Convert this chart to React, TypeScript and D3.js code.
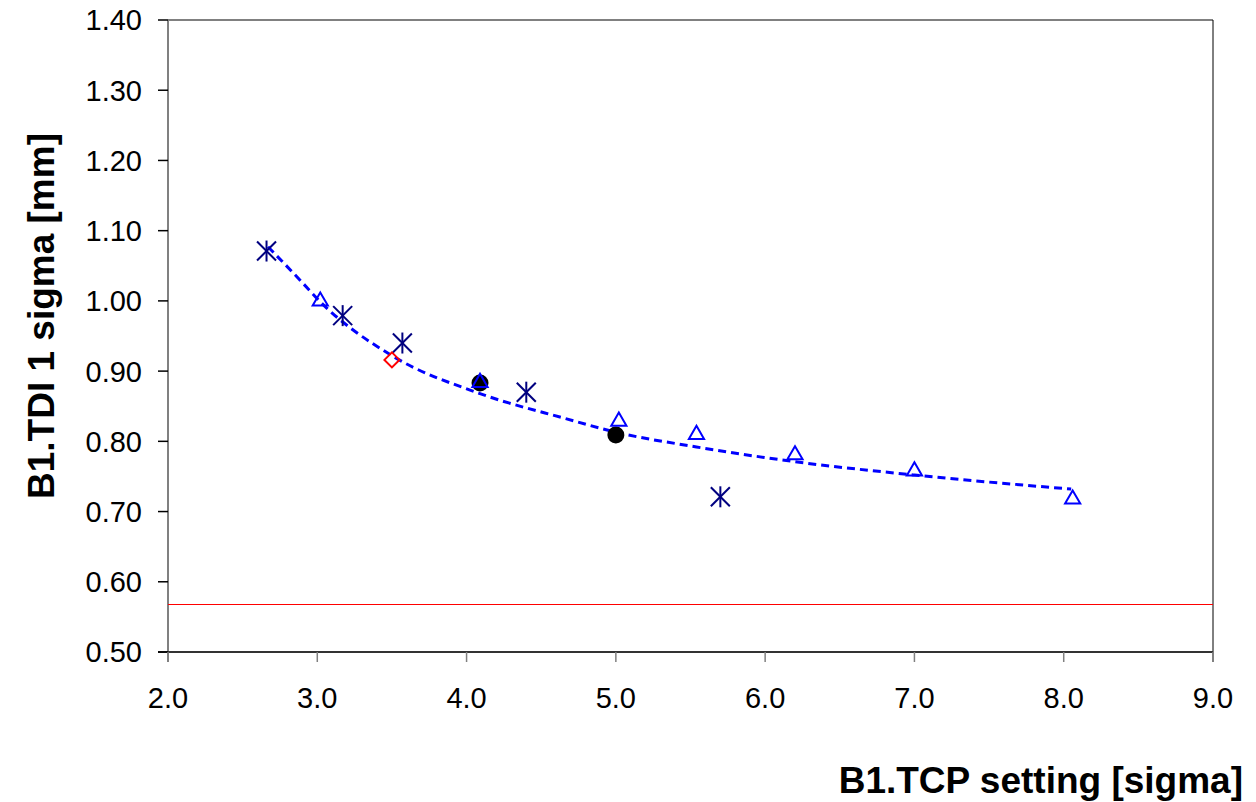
import React from "react";
import * as d3 from "d3";

const xTicks = [2, 3, 4, 5, 6, 7, 8, 9];
const yTicks = [0.5, 0.6, 0.7, 0.8, 0.9, 1.0, 1.1, 1.2, 1.3, 1.4];

const starX = [2.66, 3.17, 3.57, 4.4, 5.7];
const starY = [1.071, 0.979, 0.94, 0.87, 0.721];

const triX = [3.02, 4.09, 5.02, 5.54, 6.2, 7.0, 8.06];
const triY = [1.001, 0.885, 0.83, 0.811, 0.782, 0.759, 0.719];

const dotX = [4.09, 5.0];
const dotY = [0.883, 0.809];

const diamondX = [3.5];
const diamondY = [0.916];

const fitX = [2.67, 2.9, 3.0, 3.5, 4.09, 4.67, 5.0, 5.54, 6.2, 7.0, 8.05];
const fitY = [1.077, 1.026, 1.003, 0.922, 0.868, 0.832, 0.813, 0.792, 0.771, 0.752, 0.732];

const limitY = 0.569;

const L = 168, R = 1213, T = 20, B = 652;

export default function App() {
  const x = d3.scaleLinear().domain([2, 9]).range([L, R]);
  const y = d3.scaleLinear().domain([0.5, 1.4]).range([B, T]);
  const fitPts: [number, number][] = fitX.map((v, i) => [v, fitY[i]]);
  const line = d3
    .line<[number, number]>()
    .x((d) => x(d[0]))
    .y((d) => y(d[1]))
    .curve(d3.curveMonotoneX);
  const tri = d3.symbol().type(d3.symbolTriangle).size(100)();
  const font = "'Liberation Sans', Arial, sans-serif";
  const ly = Math.round(y(limitY)) + 0.5;
  return (
    <svg width={1256} height={802} style={{ position: "absolute", left: 0, top: 0, background: "#fff" }}>
      <rect x={0} y={0} width={1256} height={802} fill="#fff" />
      {/* frame */}
      <line x1={L} x2={R} y1={T} y2={T} stroke="#808080" strokeWidth={2} />
      <line x1={R} x2={R} y1={T} y2={B + 10} stroke="#000" strokeWidth={1} />
      <line x1={L} x2={L} y1={T} y2={B + 10} stroke="#808080" strokeWidth={2} />
      <line x1={L - 10} x2={R} y1={B} y2={B} stroke="#333" strokeWidth={2} />
      {/* y ticks */}
      {yTicks.map((t) => (
        <g key={"y" + t}>
          <line x1={L - 10} x2={L} y1={y(t)} y2={y(t)} stroke="#000" strokeWidth={1.5} />
          <text x={L - 26} y={y(t)} dy="0.36em" textAnchor="end" fontFamily={font} fontSize={29} fill="#000">
            {d3.format(".2f")(t)}
          </text>
        </g>
      ))}
      {/* x ticks */}
      {xTicks.map((t) => (
        <g key={"x" + t}>
          <line x1={x(t)} x2={x(t)} y1={B} y2={B + 10} stroke="#808080" strokeWidth={1.5} />
          <text x={x(t)} y={B + 56} textAnchor="middle" fontFamily={font} fontSize={29} fill="#000">
            {d3.format(".1f")(t)}
          </text>
        </g>
      ))}
      {/* limit line */}
      <line x1={L} x2={R} y1={ly} y2={ly} stroke="#ff0000" strokeWidth={1} />
      {/* fit */}
      <path d={line(fitPts) || ""} fill="none" stroke="#0000ff" strokeWidth={3} strokeDasharray="8,5" />
      {/* dots */}
      {dotX.map((v, i) => (
        <circle key={"d" + i} cx={x(v)} cy={y(dotY[i])} r={8.5} fill="#000" />
      ))}
      {/* triangles */}
      {triX.map((v, i) => (
        <path key={"t" + i} d={tri || ""} transform={`translate(${x(v)},${y(triY[i]) + 1})`} fill="none" stroke="#0000ff" strokeWidth={2} />
      ))}
      {/* stars */}
      {starX.map((v, i) => {
        const cx = x(v), cy = y(starY[i]);
        const s = 9.5;
        return (
          <g key={"s" + i} stroke="#000080" strokeWidth={2}>
            <line x1={cx - s} x2={cx + s} y1={cy - s} y2={cy + s} />
            <line x1={cx - s} x2={cx + s} y1={cy + s} y2={cy - s} />
            <line x1={cx} x2={cx} y1={cy - s - 1} y2={cy + s + 1} />
          </g>
        );
      })}
      {/* diamond */}
      {diamondX.map((v, i) => {
        const cx = x(v), cy = y(diamondY[i]);
        const s = 7.5;
        return (
          <path key={"dm" + i} d={`M${cx},${cy - s}L${cx + s},${cy}L${cx},${cy + s}L${cx - s},${cy}Z`} fill="none" stroke="#ff0000" strokeWidth={2} />
        );
      })}
      {/* titles */}
      <text transform={`translate(54,316) rotate(-90)`} textAnchor="middle" fontFamily={font} fontWeight="bold" fontSize={37} fill="#000">
        B1.TDI 1 sigma [mm]
      </text>
      <text x={1243} y={793} textAnchor="end" fontFamily={font} fontWeight="bold" fontSize={37} fill="#000">
        B1.TCP setting [sigma]
      </text>
    </svg>
  );
}
